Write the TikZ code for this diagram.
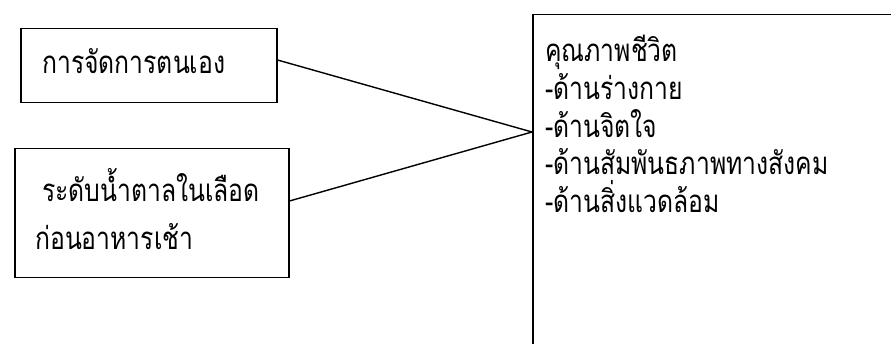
\documentclass[tikz,border=0pt]{standalone}
\usepackage{fontspec}
\usepackage{graphicx}
\newfontfamily\thaifont[Script=Thai]{Loma}
% tall, narrow Thai lettering
\newcommand{\tallthai}[1]{\scalebox{1.03}[1.3]{#1}}
\begin{document}
\begin{tikzpicture}[x=1pt,y=-1pt,
  frame/.style={draw=black,line width=1.5pt,rectangle,inner sep=0pt},
  label/.style={font=\thaifont\fontsize{24}{24}\selectfont,anchor=base west,inner sep=0pt},
  link/.style={draw=black,line width=1.4pt}]
  \useasboundingbox[fill=white] (0,0) rectangle (891,344);
  % input boxes
  \node[frame,anchor=north west,minimum width=256pt,minimum height=74pt] (selfmgmt) at (20,28) {};
  \node[label] (selfmgmttext) at (42,74) {\tallthai{การจัดการตนเอง}};
  \node[frame,anchor=north west,minimum width=274pt,minimum height=129pt] (sugar) at (14,148) {};
  \node[label] (sugartext1) at (42,202) {\tallthai{ระดับน้ำตาลในเลือด}};
  \node[label] (sugartext2) at (35,250) {\tallthai{ก่อนอาหารเช้า}};
  % outcome box, running off the right and bottom edges
  \node[frame,anchor=north west,minimum width=400pt,minimum height=360pt] (quality) at (532,14) {};
  \node[label] (q0) at (545,62)  {\tallthai{คุณภาพชีวิต}};
  \node[label] (q1) at (545,100) {\tallthai{-ด้านร่างกาย}};
  \node[label] (q2) at (545,138) {\tallthai{-ด้านจิตใจ}};
  \node[label] (q3) at (545,175) {\tallthai{-ด้านสัมพันธภาพทางสังคม}};
  \node[label] (q4) at (545,213) {\tallthai{-ด้านสิ่งแวดล้อม}};
  \coordinate (meet) at (532,132);
  \draw[link] (selfmgmt.east |- 0,60) -- (meet);
  \draw[link] (sugar.east |- 0,201) -- (meet);
\end{tikzpicture}
\end{document}
